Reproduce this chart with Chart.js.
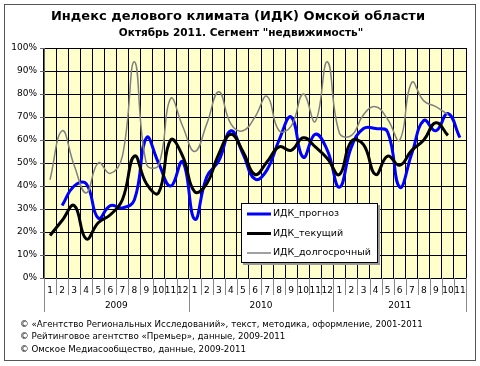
<!DOCTYPE html>
<html lang="ru">
<head>
    <meta charset="UTF-8">
    <title>ИДК Омской области</title>
    <script src="https://cdn.jsdelivr.net/npm/chart.js"></script>
    <style>
        html, body { margin: 0; padding: 0; background: #fff; }
        #chart { display: block; }
    </style>
</head>
<body>
    <canvas id="chart" width="480" height="366"></canvas>

    <script>
        // months 2009-01 .. 2011-11
        const months = [
            '1','2','3','4','5','6','7','8','9','10','11','12',
            '1','2','3','4','5','6','7','8','9','10','11','12',
            '1','2','3','4','5','6','7','8','9','10','11'
        ];
        const years = ['2009', '2010', '2011'];
        const yearStarts = [0, 12, 24, 35];

        const idkForecast = [
            null, 31.5, 40, 41, 26, 31.5, 30.5, 34, 61, 50, 40, 50.5,
            25.5, 44, 51, 64, 54, 43, 47, 60, 70, 52.5, 62.5, 55.5,
            39.5, 57, 65, 65, 63.5, 39.5, 54, 68.5, 64, 71.5, 61
        ];
        const idkCurrent = [
            18.5, 25, 31.5, 17, 24, 27.5, 34, 53, 41, 37, 60, 53,
            37.5, 41, 54, 62.5, 55, 45, 50.5, 57, 55.5, 61, 57, 52,
            45, 59.5, 58, 45, 53, 49, 55.5, 60, 67.5, 62, null
        ];
        const idkLongTerm = [
            42.7, 64, 49, 37, 50, 45.5, 53, 94, 49.5, 49, 78, 66,
            55, 67, 81, 67, 64, 70, 79, 64, 66, 80, 68, 94,
            63, 62, 71, 74.5, 69, 60, 85, 77, 74.5, 71, null
        ];

        const seriesNames = ['ИДК_прогноз', 'ИДК_текущий', 'ИДК_долгосрочный'];
        const seriesColors = ['#0000ff', '#000000', '#808080'];
        const seriesWidths = [3, 3, 1.5];

        const footerLines = [
            '© «Агентство Региональных Исследований», текст, методика, оформление, 2001-2011',
            '© Рейтинговое агентство «Премьер», данные, 2009-2011',
            '© Омское Медиасообщество, данные, 2009-2011'
        ];

        const FONT = '"DejaVu Sans", Verdana, sans-serif';

        // background, frame, titles, axis extras, legend and footer
        const decorPlugin = {
            id: 'decor',
            beforeDraw(chart) {
                const ctx = chart.ctx;
                const a = chart.chartArea;
                ctx.save();
                ctx.fillStyle = '#fff';
                ctx.fillRect(0, 0, chart.width, chart.height);
                ctx.fillStyle = '#ffffcc';
                ctx.fillRect(a.left, a.top, a.right - a.left, a.bottom - a.top);
                ctx.restore();
            },
            afterDraw(chart) {
                const ctx = chart.ctx;
                const a = chart.chartArea;
                const x = chart.scales.x;
                const w = (x.right - x.left) / months.length;
                ctx.save();

                // outer frame
                ctx.strokeStyle = '#555';
                ctx.lineWidth = 1;
                ctx.strokeRect(4.5, 4.5, 471, 356);

                // titles
                ctx.fillStyle = '#000';
                ctx.textAlign = 'center';
                ctx.textBaseline = 'middle';
                ctx.font = 'bold 13px ' + FONT;
                ctx.fillText('Индекс делового климата (ИДК) Омской области', 238, 17);
                ctx.font = 'bold 10.5px ' + FONT;
                ctx.fillText('Октябрь 2011. Сегмент "недвижимость"', 241, 33);

                // month separators
                ctx.strokeStyle = '#888';
                for (let i = 0; i <= months.length; i++) {
                    const px = Math.round(x.left + i * w) + 0.5;
                    ctx.beginPath();
                    ctx.moveTo(px, a.bottom);
                    ctx.lineTo(px, 295);
                    ctx.stroke();
                }
                // year separators and labels
                ctx.font = '9px ' + FONT;
                ctx.fillStyle = '#000';
                yearStarts.forEach((s, k) => {
                    const px = Math.round(x.left + s * w) + 0.5;
                    ctx.beginPath();
                    ctx.moveTo(px, a.bottom);
                    ctx.lineTo(px, 312);
                    ctx.stroke();
                    if (k < years.length) {
                        const mid = x.left + (s + yearStarts[k + 1]) / 2 * w;
                        ctx.fillText(years[k], mid, 306);
                    }
                });

                // legend
                const lx = 241, ly = 203, lw = 137, lh = 60;
                ctx.fillStyle = '#999';
                ctx.fillRect(lx + 2, ly + 2, lw, lh);
                ctx.fillStyle = '#fff';
                ctx.fillRect(lx, ly, lw, lh);
                ctx.strokeStyle = '#000';
                ctx.strokeRect(lx + 0.5, ly + 0.5, lw - 1, lh - 1);
                ctx.font = '9.5px ' + FONT;
                ctx.textAlign = 'left';
                seriesNames.forEach((name, i) => {
                    const yy = 214 + i * 19.5;
                    ctx.strokeStyle = seriesColors[i];
                    ctx.lineWidth = seriesWidths[i];
                    ctx.beginPath();
                    ctx.moveTo(247, yy);
                    ctx.lineTo(271, yy);
                    ctx.stroke();
                    ctx.fillStyle = '#000';
                    ctx.fillText(name, 273, yy);
                });

                // footer
                ctx.font = '8.7px ' + FONT;
                ctx.fillStyle = '#000';
                footerLines.forEach((t, i) => {
                    ctx.fillText(t, 20, 325 + i * 12.2);
                });
                ctx.restore();
            }
        };

        function makeDataset(i, values) {
            return {
                label: seriesNames[i],
                data: values,
                borderColor: seriesColors[i],
                backgroundColor: seriesColors[i],
                borderWidth: seriesWidths[i],
                pointRadius: 0,
                tension: 0.45,
                fill: false
            };
        }

        new Chart(document.getElementById('chart'), {
            type: 'line',
            data: {
                labels: months,
                datasets: [
                    makeDataset(2, idkLongTerm),
                    makeDataset(1, idkCurrent),
                    makeDataset(0, idkForecast)
                ]
            },
            options: {
                responsive: false,
                animation: false,
                devicePixelRatio: 1,
                layout: { padding: { left: 0, top: 48, right: 14, bottom: 0 } },
                plugins: {
                    legend: { display: false },
                    title: { display: false },
                    tooltip: { enabled: false }
                },
                scales: {
                    x: {
                        offset: true,
                        afterFit: s => { s.height = 88; },
                        grid: {
                            offset: true,
                            color: '#000',
                            lineWidth: 1,
                            drawTicks: false
                        },
                        border: { color: '#000' },
                        ticks: {
                            autoSkip: false,
                            maxRotation: 0,
                            padding: 7,
                            color: '#000',
                            font: { family: FONT, size: 9 }
                        }
                    },
                    y: {
                        min: 0,
                        max: 100,
                        afterFit: s => { s.width = 44; },
                        grid: {
                            color: '#000',
                            lineWidth: 1,
                            tickLength: 4,
                            tickColor: '#666'
                        },
                        border: { color: '#666' },
                        ticks: {
                            stepSize: 10,
                            padding: 3,
                            color: '#000',
                            font: { family: FONT, size: 9 },
                            callback: v => v + '%'
                        }
                    }
                }
            },
            plugins: [decorPlugin]
        });
    </script>
</body>
</html>
